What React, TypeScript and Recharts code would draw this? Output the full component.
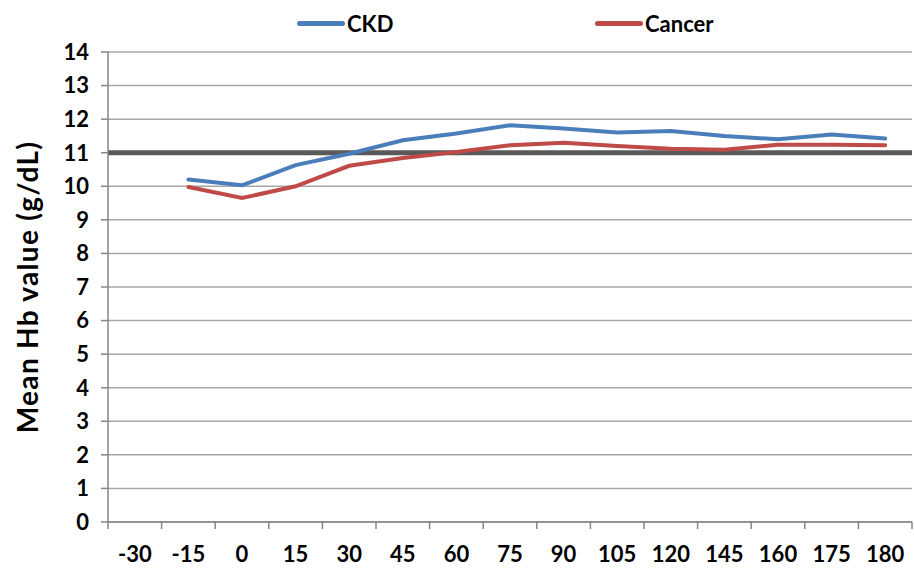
import React from "react";
import { LineChart, Line, XAxis, YAxis, CartesianGrid, ReferenceLine, Legend } from "recharts";

const days = ["-30", "-15", "0", "15", "30", "45", "60", "75", "90", "105", "120", "145", "160", "175", "180"];
const ckd = [null, 10.2, 10.03, 10.63, 10.97, 11.37, 11.57, 11.82, 11.72, 11.6, 11.65, 11.5, 11.4, 11.54, 11.42];
const cancer = [null, 9.98, 9.65, 10.0, 10.61, 10.84, 11.02, 11.22, 11.3, 11.2, 11.12, 11.09, 11.24, 11.24, 11.22];
const yTicks = [0, 1, 2, 3, 4, 5, 6, 7, 8, 9, 10, 11, 12, 13, 14];
const target = 11;
const yTitle = "Mean Hb value (g/dL)";

const data = days.map((d, i) => ({ day: d, CKD: ckd[i], Cancer: cancer[i] }));

const FONT = "Lato, 'Open Sans', sans-serif";
const AXIS = "#868686";

const XTick = (props: any) => {
  const { x, y, payload, index } = props;
  const off = payload && payload.offset ? payload.offset : 26.8;
  return (
    <g>
      <line x1={x - off} x2={x - off} y1={y} y2={y + 7} stroke={AXIS} strokeWidth={1.5} />
      {index === days.length - 1 && (
        <line x1={x + off} x2={x + off} y1={y} y2={y + 7} stroke={AXIS} strokeWidth={1.5} />
      )}
      <text x={x} y={y + 31} textAnchor="middle" dominantBaseline="central" fontFamily={FONT} fontWeight={700} fontSize={22} fill="#000">
        {payload.value}
      </text>
    </g>
  );
};

const YLabel = (props: any) => {
  const vb = props.viewBox || { x: 0, y: 52, height: 470 };
  const cx = 27;
  const cy = vb.y + vb.height / 2;
  return (
    <text
      x={cx}
      y={cy}
      transform={`rotate(-90, ${cx}, ${cy})`}
      textAnchor="middle"
      dominantBaseline="central"
      fontFamily={FONT}
      fontWeight={700}
      fontSize={28}
      letterSpacing={1.3}
      fill="#000"
    >
      {yTitle}
    </text>
  );
};

const LegendContent = () => (
  <div style={{ position: "relative", height: 40, width: 914, fontFamily: FONT, fontWeight: 700, fontSize: 22 }}>
    <div style={{ position: "absolute", left: 297, top: 10, display: "flex", alignItems: "center" }}>
      <span style={{ display: "inline-block", width: 48, height: 5, borderRadius: 3, background: "#4A7EBB", marginRight: 2 }} />
      <span>CKD</span>
    </div>
    <div style={{ position: "absolute", left: 595, top: 10, display: "flex", alignItems: "center" }}>
      <span style={{ display: "inline-block", width: 48, height: 5, borderRadius: 3, background: "#BE4B48", marginRight: 2 }} />
      <span>Cancer</span>
    </div>
  </div>
);

export default function App() {
  return (
    <div style={{ position: "absolute", left: 0, top: 0, width: 914, height: 569, background: "#fff" }}>
      <LineChart width={914} height={569} data={data} margin={{ top: 12, right: 2, bottom: 0, left: 0 }}>
        <CartesianGrid vertical={false} stroke="#a6a6a6" strokeWidth={1.5} />
        <XAxis
          dataKey="day"
          scale="band"
          axisLine={{ stroke: AXIS, strokeWidth: 1.5 }}
          tickLine={false}
          tickSize={0}
          tickMargin={0}
          interval={0}
          tick={<XTick />}
          height={47}
        />
        <YAxis
          domain={[0, 14]}
          ticks={yTicks}
          interval={0}
          width={108}
          axisLine={{ stroke: AXIS, strokeWidth: 1.5 }}
          tickLine={{ stroke: AXIS, strokeWidth: 1.5 }}
          tickSize={7}
          tickMargin={12}
          tick={{ fontFamily: FONT, fontWeight: 700, fontSize: 22, fill: "#000" }}
          label={<YLabel />}
        />
        <Legend verticalAlign="top" content={<LegendContent />} wrapperStyle={{ top: 0, left: 0, width: 914 }} />
        <ReferenceLine y={target} stroke="#595959" strokeWidth={5} />
        <Line type="linear" dataKey="CKD" stroke="#4A7EBB" strokeWidth={4} dot={false} isAnimationActive={false} strokeLinecap="round" />
        <Line type="linear" dataKey="Cancer" stroke="#BE4B48" strokeWidth={4} dot={false} isAnimationActive={false} strokeLinecap="round" />
      </LineChart>
    </div>
  );
}
